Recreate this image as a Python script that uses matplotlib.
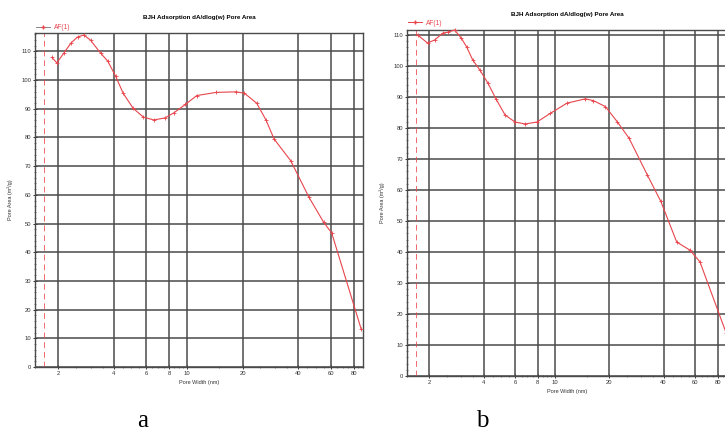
import matplotlib
matplotlib.use("Agg")
import matplotlib.pyplot as plt
import numpy as np
from matplotlib.ticker import FixedLocator, NullFormatter
from matplotlib.lines import Line2D

plt.rcParams['font.family'] = ['Liberation Sans', 'DejaVu Sans']

# ---------------- data ----------------
title = "BJH Adsorption dA/dlog(w) Pore Area"
xlabel = "Pore Width (nm)"
ylabel = "Pore Area (m²/g)"
legend_label = "AF(1)"
panel_labels = ["a", "b"]

x_ticks = [2, 4, 6, 8, 10, 20, 40, 60, 80]
x_tick_labels = ["2", "4", "6", "8", "10", "20", "40", "60", "80"]
y_ticks_a = [0, 10, 20, 30, 40, 50, 60, 70, 80, 90, 100, 110]
y_ticks_b = [0, 10, 20, 30, 40, 50, 60, 70, 80, 90, 100, 110]
ref_line_x = 1.68

width_a = [1.85, 1.97, 2.15, 2.35, 2.55, 2.76, 3.0, 3.4, 3.72, 4.1, 4.5, 5.1,
           5.8, 6.6, 7.6, 8.5, 9.8, 11.3, 14.4, 18.5, 20.5, 23.9, 26.8, 29.7,
           36.5, 45.9, 55.0, 60.9, 88.0]
area_a = [107.9, 106.0, 109.4, 112.9, 115.0, 115.7, 113.9, 109.4, 106.6, 101.4,
          95.5, 90.2, 87.1, 86.1, 86.8, 88.6, 91.5, 94.6, 95.7, 95.9, 95.4,
          91.9, 86.1, 79.4, 71.9, 59.1, 50.5, 46.7, 13.2]

width_b = [1.72, 1.95, 2.14, 2.37, 2.52, 2.76, 3.01, 3.22, 3.48, 3.81, 4.22,
           4.68, 5.26, 5.98, 6.8, 7.9, 9.38, 11.6, 14.7, 16.3, 19.0, 22.1, 25.7,
           32.5, 38.6, 47.3, 56.0, 63.7, 89.0]
area_b = [110.0, 107.4, 108.4, 110.6, 110.9, 111.6, 108.9, 106.1, 101.9, 98.7,
          94.5, 89.4, 84.2, 81.9, 81.3, 81.9, 84.7, 88.0, 89.4, 88.8, 86.9, 82.0,
          76.7, 64.8, 56.3, 43.2, 40.6, 36.8, 13.9]

# ---------------- figure ----------------
W, H = 725, 433
fig = plt.figure(figsize=(W / 100, H / 100), dpi=100)
fig.patch.set_facecolor("white")

def frac_rect(l, r, t, b):
    return [l / W, 1 - b / H, (r - l) / W, (b - t) / H]

line_color = "#e8454c"
grid_color = "#4a4a4a"

panels = [
    dict(rect=frac_rect(35, 363, 33, 367), x=width_a, y=area_a, ylim=(0, 116.4),
         yticks=y_ticks_a, label_x=143, legend_line_color="#888888",
         legend_y=1.004),
    dict(rect=frac_rect(407, 727, 30, 376), x=width_b, y=area_b, ylim=(0, 111.6),
         yticks=y_ticks_b, label_x=482, legend_line_color=line_color,
         legend_y=1.008),
]

minor_x = [v for v in list(np.arange(1.5, 10, 0.5)) + list(np.arange(15, 100, 5))
           if v not in x_ticks]

for i, p in enumerate(panels):
    ax = fig.add_axes(p["rect"])
    ax.set_xscale("log")
    ax.set_xlim(1.5, 90)
    ax.set_ylim(*p["ylim"])
    ax.set_xticks(x_ticks)
    ax.set_xticklabels(x_tick_labels)
    ax.xaxis.set_minor_locator(FixedLocator(minor_x))
    ax.xaxis.set_minor_formatter(NullFormatter())
    ax.set_yticks(p["yticks"])
    ax.yaxis.set_minor_locator(FixedLocator(np.arange(0, p["ylim"][1], 2)))
    ax.grid(True, which="major", color=grid_color, linewidth=1.1)
    ax.set_axisbelow(True)
    for s in ax.spines.values():
        s.set_color(grid_color)
        s.set_linewidth(1.0)
    ax.tick_params(which="major", labelsize=4.2, length=2.5, width=0.7,
                   direction="inout", colors="#333333", pad=1.5)
    ax.tick_params(which="minor", length=1.6, width=0.5, direction="inout",
                   colors="#555555")

    ax.axvline(ref_line_x, color=line_color, linestyle=(0, (6, 4)),
               linewidth=0.7, alpha=0.8)
    ax.plot(p["x"], p["y"], color=line_color, linewidth=0.8, marker="+",
            markersize=2.5, markeredgewidth=0.6, clip_on=False, zorder=3)

    ax.set_title(title, fontsize=4.5, fontweight="bold", pad=10)
    ax.set_xlabel(xlabel, fontsize=4, labelpad=3, color="#333333")
    ax.set_ylabel(ylabel, fontsize=4, labelpad=6, color="#333333")

    handle = Line2D([], [], color=p["legend_line_color"], linewidth=0.7,
                    marker="+", markersize=2.5, markeredgecolor=line_color)
    leg = ax.legend([handle], [legend_label], loc="lower left",
                    bbox_to_anchor=(0.0, p["legend_y"]), fontsize=4.8,
                    frameon=False, handlelength=2.2, borderpad=0.1,
                    borderaxespad=0.0, handletextpad=0.5)
    for t in leg.get_texts():
        t.set_color(line_color)

    fig.text(p["label_x"] / W, 1 - 427 / H, panel_labels[i], fontsize=18,
             family="Liberation Serif", ha="center", va="baseline")

fig.savefig("out.png", dpi=100, facecolor="white")
